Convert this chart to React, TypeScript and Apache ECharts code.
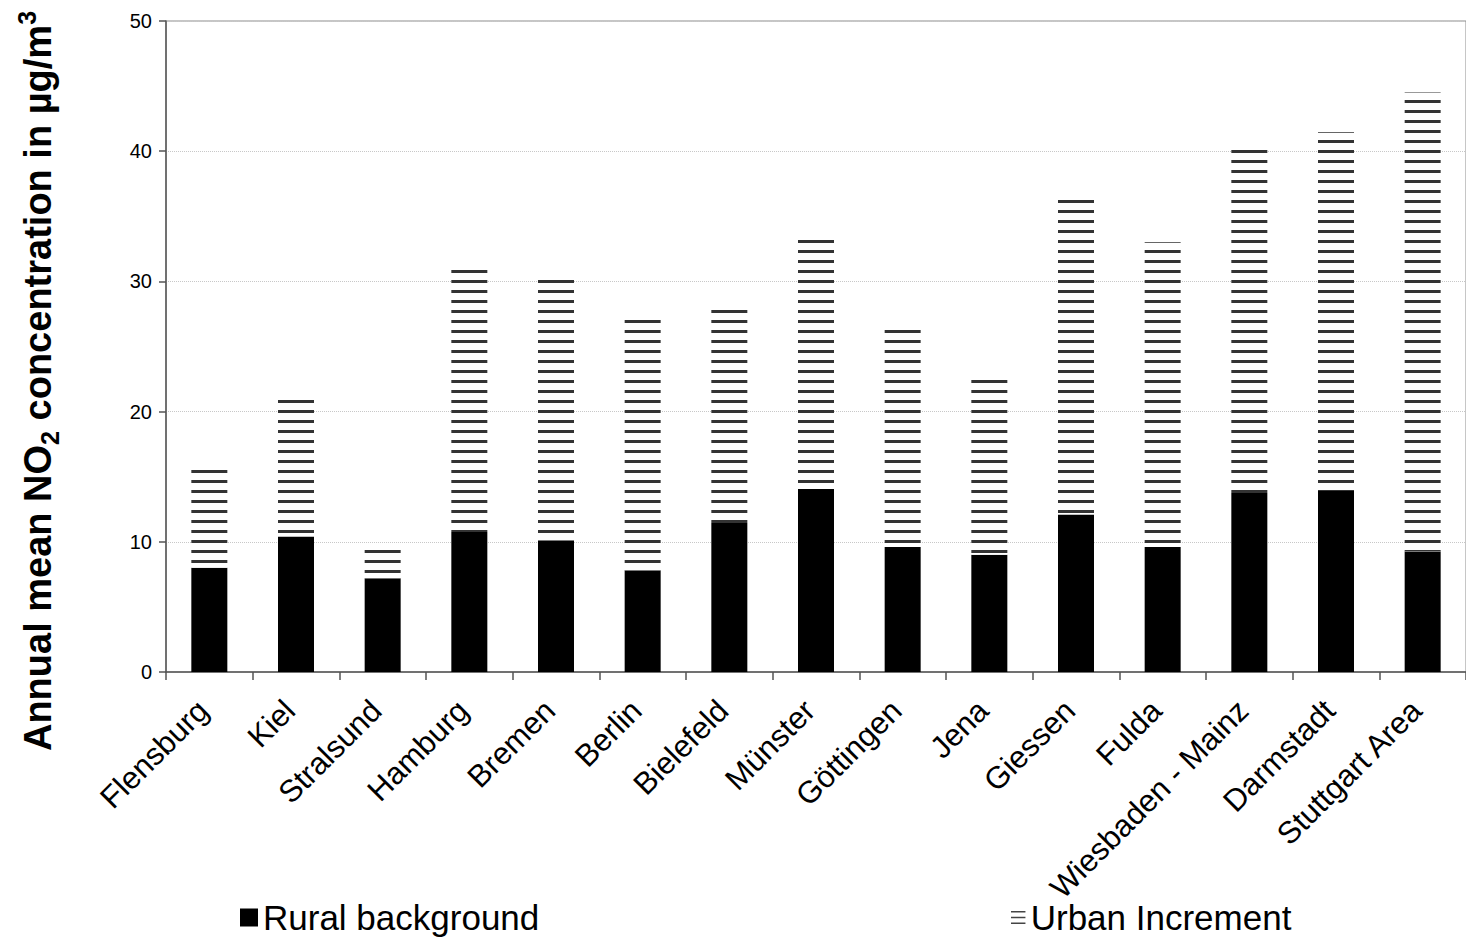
import React, { useEffect, useRef } from "react";
import * as echarts from "echarts";

const cities = [
  "Flensburg", "Kiel", "Stralsund", "Hamburg", "Bremen", "Berlin", "Bielefeld",
  "Münster", "Göttingen", "Jena", "Giessen", "Fulda", "Wiesbaden - Mainz",
  "Darmstadt", "Stuttgart Area",
];
const ruralBackground = [8.0, 10.4, 7.2, 10.75, 10.1, 7.8, 11.45, 14.05, 9.6, 9.0, 12.1, 9.6, 13.75, 13.9, 9.25];
const urbanIncrement = [7.95, 10.8, 2.3, 20.2, 20.3, 19.3, 16.35, 19.55, 16.9, 13.6, 24.6, 23.4, 26.35, 27.55, 35.25];
const yTicks = [0, 10, 20, 30, 40, 50];

const FONT = "'Liberation Sans', Arial, Helvetica, sans-serif";

export default function App() {
  const ref = useRef<HTMLDivElement>(null);
  useEffect(() => {
    if (!ref.current) return;
    const chart = echarts.init(ref.current, undefined, { renderer: "svg" });
    chart.setOption({
      animation: false,
      backgroundColor: "#ffffff",
      textStyle: { fontFamily: FONT },
      grid: {
        left: 166,
        top: 21,
        width: 1311,
        height: 651,
        show: true,
        borderColor: "#8c8c8c",
        borderWidth: 1,
        backgroundColor: "transparent",
      },
      legend: [
        {
          left: 235,
          top: 895,
          itemWidth: 18,
          itemHeight: 18,
          itemGap: 4,
          textStyle: { fontSize: 35, color: "#000", fontFamily: FONT },
          data: [{ name: "Rural background", icon: "rect" }],
        },
        {
          left: 1006,
          top: 895,
          itemWidth: 15,
          itemHeight: 13,
          itemGap: 4,
          textStyle: { fontSize: 35, color: "#000", fontFamily: FONT },
          data: [
            {
              name: "Urban Increment",
              icon: "path://M0,0H10V1H0Z M0,4H10V5H0Z M0,8H10V9H0Z",
              itemStyle: { color: "#444", decal: "none", borderWidth: 0 },
            },
          ],
        },
      ],
      xAxis: {
        type: "category",
        data: cities,
        boundaryGap: true,
        axisLine: { show: true, lineStyle: { color: "#555", width: 1.5 } },
        axisTick: { show: true, length: 8, alignWithLabel: false, lineStyle: { color: "#555", width: 1.5 } },
        axisLabel: {
          rotate: 45,
          interval: 0,
          margin: 27,
          fontSize: 31,
          color: "#000",
          fontFamily: FONT,
          align: "right",
          verticalAlign: "middle",
          padding: [0, 9, 0, 0],
        },
        splitLine: { show: false },
      },
      yAxis: {
        type: "value",
        min: yTicks[0],
        max: yTicks[yTicks.length - 1],
        interval: 10,
        axisLine: { show: true, lineStyle: { color: "#555", width: 1.5 } },
        axisTick: { show: true, length: 7, lineStyle: { color: "#555", width: 1.5 } },
        axisLabel: { fontSize: 20, color: "#000", margin: 14, fontFamily: FONT },
        splitLine: { show: true, lineStyle: { color: "#c8c8c8", type: "dotted", width: 1 } },
      },
      series: [
        {
          name: "Rural background",
          type: "bar",
          stack: "total",
          barWidth: 36,
          data: ruralBackground,
          itemStyle: { color: "#000000" },
        },
        {
          name: "Urban Increment",
          type: "bar",
          stack: "total",
          barWidth: 36,
          data: urbanIncrement,
          itemStyle: {
            color: "#ffffff",
            decal: {
              symbol: "rect",
              symbolSize: 1,
              color: "#333333",
              dashArrayX: [1, 0],
              dashArrayY: [2.2, 6.5],
              rotation: 0,
            },
          },
        },
      ],
      graphic: [
        {
          type: "text",
          x: 38,
          y: 381,
          rotation: Math.PI / 2,
          style: {
            text: "{a|Annual mean NO}{sub|2}{a| concentration in µg/m}{sup|3}",
            align: "center",
            verticalAlign: "middle",
            fill: "#000",
            rich: {
              a: { fontSize: 38, fontWeight: "bold", fontFamily: FONT, lineHeight: 48, fill: "#000" },
              sub: { fontSize: 25, fontWeight: "bold", fontFamily: FONT, lineHeight: 25, verticalAlign: "bottom", fill: "#000" },
              sup: { fontSize: 25, fontWeight: "bold", fontFamily: FONT, lineHeight: 25, verticalAlign: "top", fill: "#000" },
            },
          },
        },
      ],
    });
    return () => chart.dispose();
  }, []);
  return (
    <div
      ref={ref}
      style={{ position: "fixed", left: 0, top: 0, width: 1466, height: 937, background: "#fff" }}
    />
  );
}
